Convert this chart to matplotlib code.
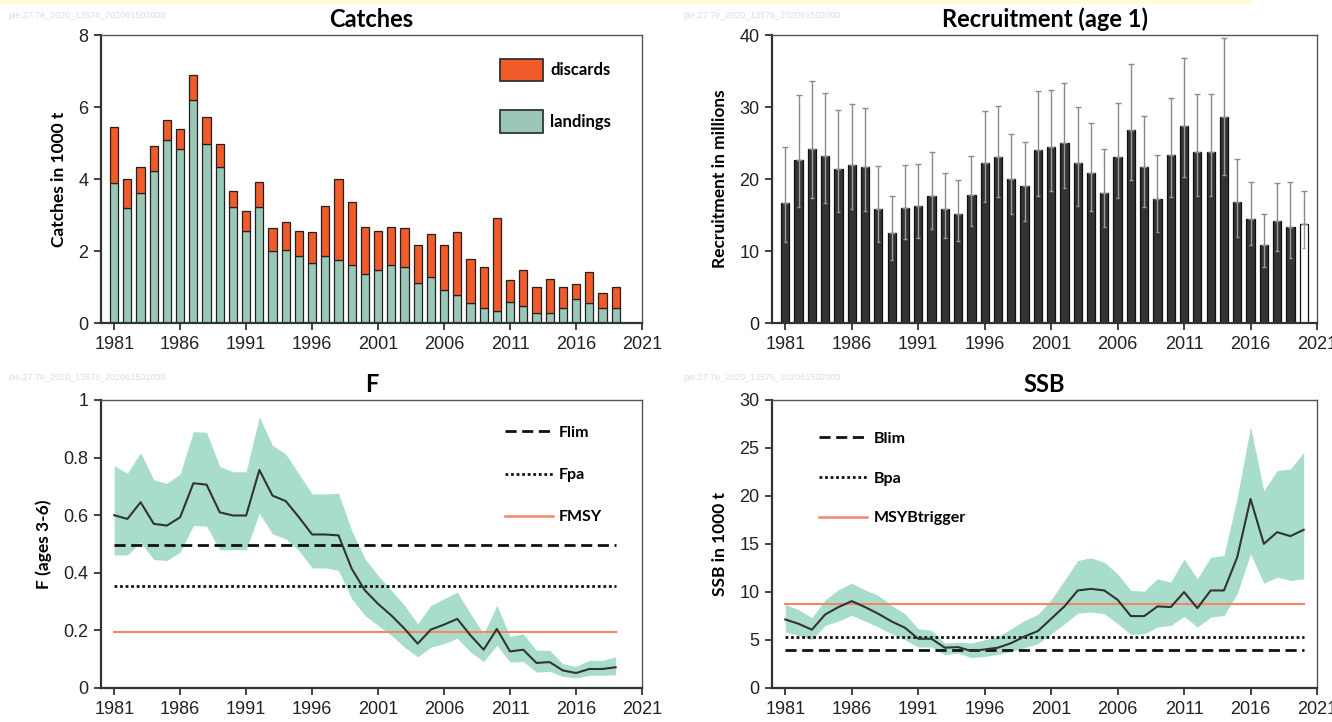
import numpy as np
import matplotlib
matplotlib.use("Agg")
import matplotlib.pyplot as plt
from matplotlib.patches import Patch, Rectangle
from matplotlib.lines import Line2D

# ---------------- data ----------------
years_c = list(range(1981, 2020))
catch_total = [5.44, 4.00, 4.32, 4.92, 5.64, 5.39, 6.88, 5.73, 4.96, 3.67,
               3.12, 3.92, 2.64, 2.80, 2.56, 2.52, 3.24, 4.00, 3.36, 2.67,
               2.56, 2.67, 2.64, 2.16, 2.47, 2.16, 2.52, 1.79, 1.55, 2.91,
               1.19, 1.46, 1.00, 1.23, 1.00, 1.07, 1.42, 0.83, 1.00]
landings = [3.88, 3.19, 3.60, 4.23, 5.07, 4.83, 6.20, 4.96, 4.32, 3.23,
            2.56, 3.23, 1.99, 2.04, 1.86, 1.67, 1.86, 1.74, 1.60, 1.35,
            1.46, 1.60, 1.55, 1.10, 1.27, 0.91, 0.79, 0.56, 0.42, 0.34,
            0.59, 0.47, 0.28, 0.28, 0.43, 0.67, 0.56, 0.42, 0.42]
discards = [t - l for t, l in zip(catch_total, landings)]

years_r = list(range(1981, 2021))
recruit = [16.7, 22.6, 24.2, 23.2, 21.4, 22.0, 21.6, 15.8, 12.5, 16.0,
           16.2, 17.6, 15.8, 15.1, 17.8, 22.2, 23.0, 20.0, 19.0, 24.0,
           24.4, 25.0, 22.2, 20.8, 18.0, 23.0, 26.8, 21.6, 17.2, 23.4,
           27.4, 23.8, 23.8, 28.6, 16.8, 14.5, 10.9, 14.1, 13.3, 13.7]
recruit_hi = [24.5, 31.6, 33.6, 32.0, 29.6, 30.4, 29.8, 21.8, 17.7, 22.0,
              22.1, 23.8, 20.8, 19.8, 23.2, 29.4, 30.2, 26.2, 25.2, 32.2,
              32.4, 33.4, 30.0, 27.8, 24.2, 30.6, 36.0, 28.8, 23.4, 31.2,
              36.8, 31.8, 31.8, 39.6, 22.8, 19.6, 15.1, 19.4, 19.6, 18.4]
recruit_lo = [11.2, 16.1, 17.3, 16.6, 15.4, 15.9, 15.5, 11.3, 8.8, 11.6,
              11.8, 13.1, 11.8, 11.4, 13.5, 16.8, 17.5, 15.1, 14.2, 17.7,
              18.3, 18.7, 16.3, 15.5, 13.4, 17.3, 19.9, 16.1, 12.6, 17.5,
              20.3, 17.7, 17.7, 20.6, 12.0, 10.8, 7.8, 10.0, 9.0, 10.4]

years_f = list(range(1981, 2020))
f_val = [0.600, 0.587, 0.645, 0.570, 0.564, 0.593, 0.711, 0.706, 0.610, 0.599,
         0.599, 0.757, 0.668, 0.649, 0.593, 0.533, 0.533, 0.530, 0.414, 0.339,
         0.292, 0.252, 0.206, 0.154, 0.203, 0.220, 0.240, 0.183, 0.133, 0.205,
         0.127, 0.133, 0.087, 0.090, 0.061, 0.052, 0.066, 0.066, 0.072]
f_hi = [0.772, 0.746, 0.817, 0.723, 0.711, 0.743, 0.890, 0.888, 0.769, 0.751,
        0.751, 0.942, 0.842, 0.813, 0.743, 0.674, 0.674, 0.676, 0.547, 0.449,
        0.391, 0.339, 0.287, 0.223, 0.287, 0.310, 0.333, 0.258, 0.188, 0.287,
        0.179, 0.188, 0.131, 0.131, 0.084, 0.075, 0.096, 0.096, 0.108]
f_lo = [0.462, 0.462, 0.506, 0.446, 0.443, 0.472, 0.564, 0.562, 0.480, 0.480,
        0.480, 0.607, 0.535, 0.518, 0.477, 0.417, 0.417, 0.408, 0.310, 0.252,
        0.217, 0.183, 0.142, 0.108, 0.142, 0.154, 0.173, 0.125, 0.092, 0.148,
        0.090, 0.092, 0.055, 0.058, 0.040, 0.035, 0.044, 0.044, 0.046]
flim, fpa, fmsy = 0.495, 0.354, 0.196

years_s = list(range(1981, 2021))
ssb = [7.14, 6.69, 6.07, 7.66, 8.43, 9.05, 8.43, 7.73, 6.93, 6.28,
       5.13, 5.13, 4.20, 4.26, 3.85, 4.02, 4.20, 4.68, 5.37, 5.93,
       7.21, 8.50, 10.16, 10.33, 10.16, 9.19, 7.49, 7.49, 8.50, 8.43,
       9.99, 8.32, 10.16, 10.16, 13.63, 19.70, 15.02, 16.23, 15.82, 16.48]
ssb_hi = [8.70, 8.15, 7.32, 9.19, 10.23, 10.92, 10.23, 9.64, 8.60, 7.73,
          6.17, 6.00, 4.68, 4.78, 4.68, 5.03, 5.37, 6.17, 7.04, 7.66,
          9.19, 11.20, 13.28, 13.56, 13.10, 11.89, 10.16, 10.09, 11.37, 11.03,
          13.45, 11.37, 13.63, 13.80, 19.87, 27.22, 20.56, 22.64, 22.82, 24.55]
ssb_lo = [5.83, 5.48, 5.03, 6.52, 6.97, 7.56, 6.97, 6.35, 5.65, 5.03,
          4.27, 4.27, 3.47, 3.64, 3.16, 3.29, 3.50, 3.81, 4.20, 4.61,
          5.65, 6.69, 7.80, 7.91, 7.73, 6.69, 5.58, 5.65, 6.35, 6.52,
          7.46, 6.35, 7.39, 7.56, 9.81, 13.98, 10.92, 11.55, 11.20, 11.37]
blim, bpa, msybtrigger = 3.92, 5.31, 8.77

xticks = [1981, 1986, 1991, 1996, 2001, 2006, 2011, 2016, 2021]
watermark = "pie.27.7e_2020_13576_202061502000"

# ---------------- style ----------------
W, H = 1332, 722
fig = plt.figure(figsize=(W / 100, H / 100), dpi=100)
fig.patch.set_facecolor("white")
fig.add_artist(Rectangle((0, 1 - 3 / H), 1250 / W, 3 / H, transform=fig.transFigure,
                         color="#FFFBD5", zorder=0))

TICKFONT = ["Liberation Sans Narrow", "Liberation Sans", "DejaVu Sans"]
LABFONT = ["Lato", "Open Sans", "DejaVu Sans"]
C_DISC = "#F15A29"
C_LAND = "#9BC7B7"
C_BAND = "#A8DDCB"
C_MSY = "#F4866A"


def make_ax(x0, ytop, x1, ybot):
    return fig.add_axes([x0 / W, 1 - ybot / H, (x1 - x0) / W, (ybot - ytop) / H])


def style(ax, xlim, ylim, yticks, ylabel, title):
    ax.set_xlim(*xlim)
    ax.set_ylim(*ylim)
    ax.set_xticks(xticks)
    ax.set_xticklabels([str(x) for x in xticks], family=TICKFONT, fontsize=13, color="#222")
    ax.set_yticks(yticks)
    ax.set_yticklabels([f"{v:g}" for v in yticks], family=TICKFONT, fontsize=13, color="#222")
    ax.tick_params(axis="both", direction="out", length=5, width=1.3, color="#333",
                   top=False, right=False, pad=4)
    for s in ["left", "bottom"]:
        ax.spines[s].set_linewidth(1.6)
        ax.spines[s].set_color("#333")
    for s in ["top", "right"]:
        ax.spines[s].set_linewidth(1.0)
        ax.spines[s].set_color("#555")
    ax.set_ylabel(ylabel, family=LABFONT, fontweight="bold", fontsize=12.5, labelpad=8)
    ax.set_title(title, family=LABFONT, fontweight="bold", fontsize=17, pad=6)


# ---------------- Catches ----------------
ax1 = make_ax(101, 35, 642, 323)
ax1.bar(years_c, landings, width=0.62, color=C_LAND, edgecolor="#222", linewidth=0.9,
        label="landings", zorder=2)
ax1.bar(years_c, discards, width=0.62, bottom=landings, color=C_DISC, edgecolor="#222",
        linewidth=0.9, label="discards", zorder=2)
style(ax1, (1980.0, 2021), (0, 8), [0, 2, 4, 6, 8], "Catches in 1000 t", "Catches")
h = [Patch(facecolor=C_DISC, edgecolor="#333", linewidth=1.3),
     Patch(facecolor=C_LAND, edgecolor="#333", linewidth=1.3)]
ax1.legend(h, ["discards", "landings"], loc="upper left", bbox_to_anchor=(0.71, 0.97),
           frameon=False, handlelength=2.6, handleheight=1.7, labelspacing=1.75,
           handletextpad=0.4, prop={"family": LABFONT, "weight": "bold", "size": 12})

# ---------------- Recruitment ----------------
ax2 = make_ax(772, 35, 1317, 323)
rcol = ["#333333"] * (len(years_r) - 1) + ["white"]
ax2.bar(years_r, recruit, width=0.62, color=rcol, edgecolor="#111", linewidth=0.9, zorder=2)
up = [hi - v for hi, v in zip(recruit_hi, recruit)]
ax2.errorbar(years_r, recruit, yerr=[[0] * len(up), up], fmt="none", ecolor="#8a8a8a",
             elinewidth=1.0, capsize=2, capthick=1.0, zorder=3)
ax2.vlines(years_r, recruit_lo, recruit, colors="#9a9a9a", linewidth=1.0, zorder=3)
ax2.hlines(recruit_lo, [y - 0.13 for y in years_r], [y + 0.13 for y in years_r],
           colors="#9a9a9a", linewidth=1.0, zorder=3)
style(ax2, (1980.0, 2021), (0, 40), [0, 10, 20, 30, 40], "Recruitment in millions",
      "Recruitment (age 1)")

# ---------------- F ----------------
ax3 = make_ax(101, 400, 642, 688)
ax3.fill_between(years_f, f_lo, f_hi, color=C_BAND, linewidth=0, zorder=1)
ax3.plot(years_f, f_val, color="#333", linewidth=1.5, zorder=3)
ax3.plot([years_f[0], years_f[-1]], [flim, flim], color="#111", linestyle=(0, (4, 2)),
         linewidth=2.0, zorder=2)
ax3.plot([years_f[0], years_f[-1]], [fpa, fpa], color="#111", linestyle=(0, (1, 1)),
         linewidth=2.0, zorder=2)
ax3.plot([years_f[0], years_f[-1]], [fmsy, fmsy], color=C_MSY, linewidth=1.5, zorder=2)
style(ax3, (1980.0, 2021), (0, 1), [0, 0.2, 0.4, 0.6, 0.8, 1], "F (ages 3-6)", "F")
hF = [Line2D([], [], color="#111", linestyle=(0, (4, 2)), linewidth=2.0),
      Line2D([], [], color="#111", linestyle=(0, (1, 1)), linewidth=2.0),
      Line2D([], [], color=C_MSY, linewidth=1.8)]
ax3.legend(hF, ["Flim", "Fpa", "FMSY"], loc="upper left", bbox_to_anchor=(0.72, 0.96),
           frameon=False, handlelength=3.0, labelspacing=1.75, handletextpad=0.4,
           prop={"family": LABFONT, "weight": "bold", "size": 11.5})

# ---------------- SSB ----------------
ax4 = make_ax(772, 400, 1317, 688)
ax4.fill_between(years_s, ssb_lo, ssb_hi, color=C_BAND, linewidth=0, zorder=1)
ax4.plot(years_s, ssb, color="#333", linewidth=1.5, zorder=3)
ax4.plot([years_s[0], years_s[-1]], [blim, blim], color="#111", linestyle=(0, (4, 2)),
         linewidth=2.0, zorder=2)
ax4.plot([years_s[0], years_s[-1]], [bpa, bpa], color="#111", linestyle=(0, (1, 1)),
         linewidth=2.0, zorder=2)
ax4.plot([years_s[0], years_s[-1]], [msybtrigger, msybtrigger], color=C_MSY,
         linewidth=1.5, zorder=2)
style(ax4, (1980.0, 2021), (0, 30), [0, 5, 10, 15, 20, 25, 30], "SSB in 1000 t", "SSB")
hS = [Line2D([], [], color="#111", linestyle=(0, (4, 2)), linewidth=2.0),
      Line2D([], [], color="#111", linestyle=(0, (1, 1)), linewidth=2.0),
      Line2D([], [], color=C_MSY, linewidth=1.8)]
ax4.legend(hS, ["Blim", "Bpa", "MSYBtrigger"], loc="upper left", bbox_to_anchor=(0.06, 0.94),
           frameon=False, handlelength=3.0, labelspacing=1.6, handletextpad=0.4,
           prop={"family": LABFONT, "weight": "bold", "size": 11.5})

# watermarks
for (x, y) in [(8, 15), (683, 15), (8, 378), (683, 378)]:
    fig.text(x / W, 1 - y / H, watermark, fontsize=6.5, color="#dcdcdc",
             family=TICKFONT, va="center", ha="left")

fig.savefig("out.png", dpi=100)
